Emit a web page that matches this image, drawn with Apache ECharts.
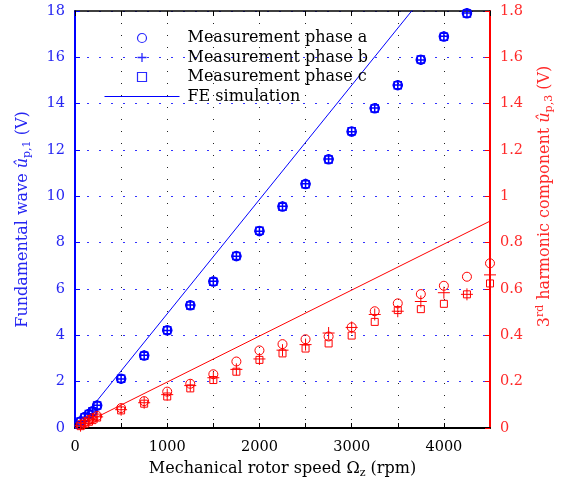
<!DOCTYPE html>
<html><head><meta charset="utf-8">
<script src="https://cdn.jsdelivr.net/npm/echarts@6/dist/echarts.min.js"></script>
<style>html,body{margin:0;padding:0;background:#fff}#c{width:565px;height:486px}</style>
</head><body><div id="c"></div>
<script>
// ---- data ----
const speedFund = [60,105,150,190,240,500,750,1000,1250,1500,1750,2000,2250,2500,2750,3000,3250,3500,3750,4000,4250];
const fundA = [0.28,0.47,0.60,0.72,0.97,2.13,3.13,4.22,5.30,6.32,7.42,8.50,9.56,10.53,11.60,12.80,13.80,14.80,15.90,16.90,17.90];
const fundB = [0.27,0.46,0.61,0.73,0.98,2.12,3.14,4.21,5.31,6.33,7.41,8.49,9.57,10.54,11.61,12.79,13.81,14.81,15.89,16.91,17.91];
const fundC = [0.28,0.46,0.60,0.72,0.97,2.13,3.12,4.22,5.29,6.31,7.42,8.51,9.55,10.52,11.59,12.81,13.79,14.79,15.91,16.89,17.89];
const speedThird = [60,105,150,190,240,500,750,1000,1250,1500,1750,2000,2250,2500,2750,3000,3250,3500,3750,4000,4250,4500];
const thirdA = [0.015,0.025,0.035,0.042,0.052,0.086,0.116,0.157,0.191,0.232,0.287,0.335,0.362,0.383,0.395,0.435,0.504,0.538,0.578,0.614,0.653,0.711];
const thirdB = [0.010,0.020,0.030,0.038,0.048,0.079,0.109,0.144,0.183,0.217,0.253,0.298,0.336,0.360,0.410,0.434,0.490,0.504,0.546,0.584,0.577,0.661];
const thirdC = [0.008,0.018,0.027,0.034,0.045,0.076,0.105,0.136,0.171,0.207,0.243,0.294,0.322,0.343,0.365,0.399,0.458,0.509,0.513,0.536,0.577,0.624];
const feSpeed = [0, 4500];
const feFund = [0, 22.19];
const feThird = [0, 0.893];
const legendNames = ['Measurement phase a','Measurement phase b','Measurement phase c','FE simulation'];

// ---- style ----
const BLUE = '#0000ff', BLUE_L = '#2a2aff', BLUE_T = '#2626f2', RED = '#ff0000', RED_T = '#ff2a2a';
const FONT = 'DejaVu Serif';
const PLUS = 'path://M0,6H12M6,0V12';
const SQUARE = 'path://M0,0H10V10H0Z';
const zip = (xs, ys) => xs.map((x, i) => [x, ys[i]]);

function scat(name, xs, ys, color, symbol, size, yIdx, bw) {
  return { type: 'scatter', name, xAxisIndex: 0, yAxisIndex: yIdx, data: zip(xs, ys),
    symbol, symbolSize: size, symbolKeepAspect: true,
    itemStyle: { color: 'rgba(0,0,0,0)', borderColor: color, borderWidth: bw, opacity: 1 },
    emphasis: { disabled: true }, z: 3 };
}

const chart = echarts.init(document.getElementById('c'), null, { renderer: 'canvas' });
chart.setOption({
  animation: false,
  backgroundColor: '#fff',
  grid: { left: 75, right: 75, top: 11, bottom: 58 },
  legend: {
    left: 99, top: 25, orient: 'vertical', itemWidth: 75, itemHeight: 9, itemGap: 3.5,
    selectedMode: false,
    textStyle: { fontFamily: FONT, fontSize: 16, color: '#000', padding: [0, 0, 0, 3] },
    data: [
      { name: legendNames[0], icon: 'circle', itemStyle: { color: 'rgba(0,0,0,0)', borderColor: BLUE_L, borderWidth: 1.2 } },
      { name: legendNames[1], icon: PLUS, itemStyle: { color: 'rgba(0,0,0,0)', borderColor: BLUE_L, borderWidth: 1.3 } },
      { name: legendNames[2], icon: SQUARE, itemStyle: { color: 'rgba(0,0,0,0)', borderColor: BLUE_L, borderWidth: 1.2 } },
      { name: legendNames[3], itemStyle: { color: 'rgba(0,0,0,0)', borderColor: 'rgba(0,0,0,0)', borderWidth: 0 },
        lineStyle: { color: BLUE, width: 1 } }
    ]
  },
  xAxis: [{
    type: 'value', min: 0, max: 4500, interval: 500, position: 'bottom',
    axisLine: { onZero: false, lineStyle: { color: '#000', width: 2 } },
    axisTick: { inside: true, length: 5, lineStyle: { color: '#000', width: 1 } },
    axisLabel: { interval: 1, showMaxLabel: false, margin: 12, fontFamily: FONT, fontSize: 14.5, color: '#000',
      formatter: v => (v % 1000 === 0 ? String(v) : '') },
    splitLine: { show: true, lineStyle: { color: '#222', width: 1, type: [1, 11] } },
    name: '{n|Mechanical rotor speed Ω}{s|z}{n| (rpm)}', nameLocation: 'middle', nameGap: 31,
    nameTextStyle: { rich: {
      n: { fontFamily: FONT, fontSize: 16, color: '#000', lineHeight: 20 },
      s: { fontFamily: FONT, fontSize: 11, color: '#000', lineHeight: 10, verticalAlign: 'bottom' } } }
  }, {
    type: 'value', min: 0, max: 4500, interval: 500, position: 'top',
    axisLine: { onZero: false, lineStyle: { color: '#000', width: 1.5 } },
    axisTick: { inside: true, length: 5, lineStyle: { color: '#000', width: 1 } },
    axisLabel: { show: false }, splitLine: { show: false }
  }],
  yAxis: [{
    type: 'value', min: 0, max: 18, interval: 2, position: 'left',
    axisLine: { show: true, onZero: false, lineStyle: { color: BLUE, width: 2 } },
    axisTick: { show: true, inside: true, length: 5, lineStyle: { color: BLUE, width: 1 } },
    axisLabel: { margin: 10, fontFamily: FONT, fontSize: 14.5, color: BLUE_T },
    splitLine: { show: true, lineStyle: { color: '#3333ff', width: 1, type: [2, 10] } },
    name: '{n|Fundamental wave }{i|û}{s|p,1}{n| (V)}', nameLocation: 'middle', nameRotate: 90, nameGap: 42,
    nameTextStyle: { rich: {
      n: { fontFamily: FONT, fontSize: 16, color: BLUE_T, lineHeight: 20 },
      i: { fontFamily: FONT, fontSize: 16, fontStyle: 'italic', color: BLUE_T, lineHeight: 20 },
      s: { fontFamily: FONT, fontSize: 11, color: BLUE_T, lineHeight: 10, verticalAlign: 'bottom' } } }
  }, {
    type: 'value', min: 0, max: 1.8, interval: 0.2, position: 'right',
    axisLine: { show: true, onZero: false, lineStyle: { color: RED, width: 2 } },
    axisTick: { show: true, inside: true, length: 5, lineStyle: { color: RED, width: 1 } },
    axisLabel: { margin: 10, fontFamily: FONT, fontSize: 14.5, color: RED_T,
      formatter: v => String(parseFloat(v.toFixed(1))) },
    splitLine: { show: false },
    name: '{n|3}{p|rd}{n| harmonic component }{i|û}{s|p,3}{n| (V)}', nameLocation: 'middle', nameRotate: 90, nameGap: 45,
    nameTextStyle: { padding: [0, 0, 0, 46], rich: {
      n: { fontFamily: FONT, fontSize: 16, color: RED_T, lineHeight: 20 },
      i: { fontFamily: FONT, fontSize: 16, fontStyle: 'italic', color: RED_T, lineHeight: 20 },
      p: { fontFamily: FONT, fontSize: 11, color: RED_T, lineHeight: 10, verticalAlign: 'top' },
      s: { fontFamily: FONT, fontSize: 11, color: RED_T, lineHeight: 10, verticalAlign: 'bottom' } } }
  }],
  series: [
    scat(legendNames[0], speedFund, fundA, BLUE, 'circle', 9, 0, 1.5),
    scat(legendNames[1], speedFund, fundB, BLUE, PLUS, 10, 0, 1.5),
    scat(legendNames[2], speedFund, fundC, BLUE, SQUARE, 7, 0, 1.5),
    { type: 'line', name: legendNames[3], yAxisIndex: 0, data: zip(feSpeed, feFund), showSymbol: false, symbol: 'none',
      clip: true, lineStyle: { color: BLUE, width: 1 }, itemStyle: { color: BLUE }, z: 2 },
    scat(legendNames[0], speedThird, thirdA, RED, 'circle', 9, 1, 1),
    scat(legendNames[1], speedThird, thirdB, RED, PLUS, 12, 1, 1),
    scat(legendNames[2], speedThird, thirdC, RED, SQUARE, 7, 1, 1),
    { type: 'line', name: 'FE simulation 3rd', yAxisIndex: 1, data: zip(feSpeed, feThird), showSymbol: false, symbol: 'none',
      clip: true, lineStyle: { color: RED, width: 1 }, z: 2 }
  ]
});
</script></body></html>
